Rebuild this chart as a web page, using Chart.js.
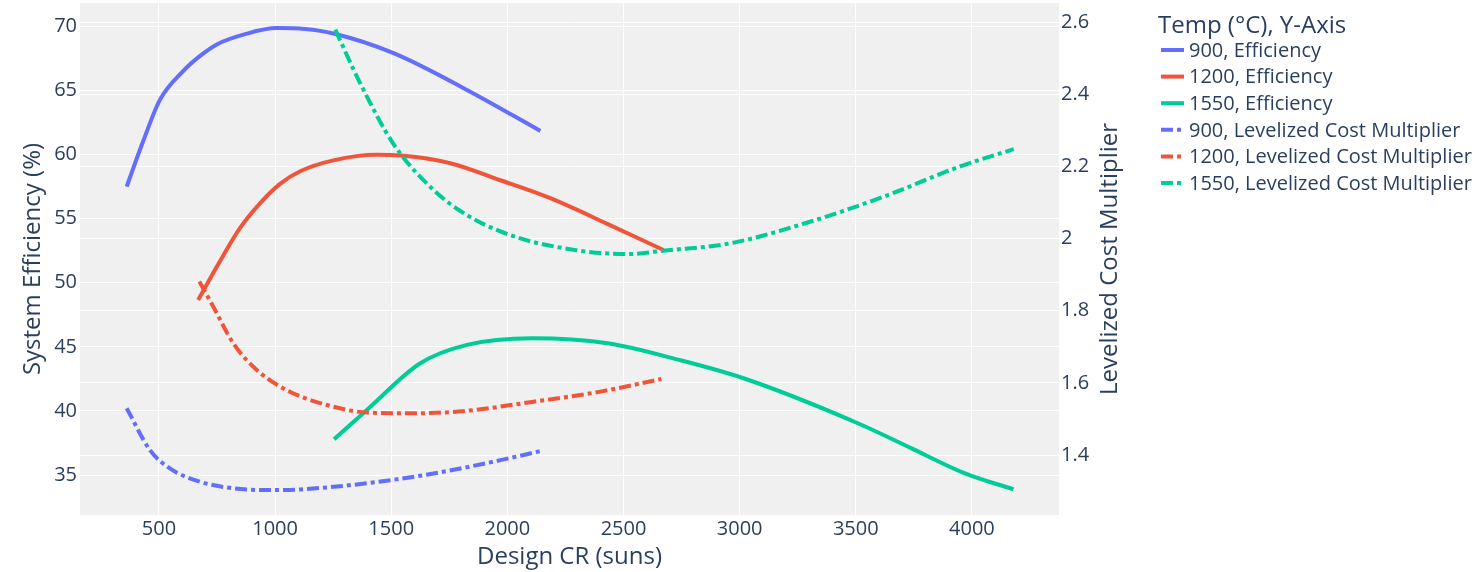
<!DOCTYPE html>
<html>
<head>
<meta charset="utf-8">
<script src="https://cdn.jsdelivr.net/npm/chart.js@4.4.1/dist/chart.umd.min.js"></script>
<style>
html,body{margin:0;padding:0;background:#ffffff;}
#wrap{width:1483px;height:572px;position:relative;}
</style>
</head>
<body>
<div id="wrap"><canvas id="c" width="1483" height="572"></canvas></div>
<script>
// ---- data ----
const cr900 = [361, 431, 504, 603, 677, 749, 871, 1007, 1129, 1251, 1510, 1826, 2142];
const eff900 = [57.5, 61.0, 64.27, 66.5, 67.7, 68.6, 69.4, 69.87, 69.8, 69.45, 67.92, 65.05, 61.85];

const cr1200 = [669, 760, 850, 935, 1020, 1108, 1251, 1438, 1539, 1754, 1970, 2185, 2430, 2672];
const eff1200 = [48.66, 51.6, 54.3, 56.2, 57.7, 58.7, 59.55, 59.98, 59.93, 59.33, 58.0, 56.6, 54.6, 52.56];

const cr1550 = [1254, 1395, 1625, 1826, 2108, 2431, 2740, 3017, 3509, 3740, 3970, 4179];
const eff1550 = [37.79, 40.07, 43.72, 45.15, 45.67, 45.28, 43.98, 42.55, 39.04, 37.08, 35.13, 33.88];

const cr900L = [361, 461, 547, 677, 820, 964, 1108, 1395, 1682, 1970, 2142];
const lcm900 = [1.530, 1.414, 1.363, 1.326, 1.308, 1.303, 1.305, 1.322, 1.349, 1.386, 1.411];

const cr1200L = [674, 734, 820, 921, 1050, 1223, 1395, 1611, 1826, 2113, 2401, 2663];
const lcm1200 = [1.881, 1.811, 1.710, 1.636, 1.580, 1.539, 1.518, 1.516, 1.523, 1.548, 1.576, 1.611];

const cr1550L = [1259, 1366, 1510, 1682, 1826, 1970, 2135, 2514, 2679, 2960, 3289, 3619, 3949, 4180];
const lcm1550 = [2.579, 2.431, 2.262, 2.135, 2.065, 2.020, 1.987, 1.957, 1.967, 1.987, 2.044, 2.116, 2.200, 2.248];

const xTicks = [500, 1000, 1500, 2000, 2500, 3000, 3500, 4000];
const yLeftTicks = [35, 40, 45, 50, 55, 60, 65, 70];
const yRightTicks = [1.4, 1.6, 1.8, 2.0, 2.2, 2.4, 2.6];

const seriesLabels = ['900, Efficiency', '1200, Efficiency', '1550, Efficiency',
  '900, Levelized Cost Multiplier', '1200, Levelized Cost Multiplier', '1550, Levelized Cost Multiplier'];
const legendTitle = 'Temp (\u00B0C), Y-Axis';
const xTitle = 'Design CR (suns)';
const yLeftTitle = 'System Efficiency (%)';
const yRightTitle = 'Levelized Cost Multiplier';

// ---- styles ----
const BLUE = '#636efa', RED = '#EF553B', GREEN = '#00cc96';
const TEXT = '#2a3f5f';
const FONT = '"Open Sans", "Noto Sans", sans-serif';
const DASHDOT = [12, 4, 4, 4];

function pts(xs, ys) { return xs.map((x, i) => ({x: x, y: ys[i]})); }

const defs = [
  {xs: cr900, ys: eff900, c: BLUE, axis: 'y', dash: []},
  {xs: cr1200, ys: eff1200, c: RED, axis: 'y', dash: []},
  {xs: cr1550, ys: eff1550, c: GREEN, axis: 'y', dash: []},
  {xs: cr900L, ys: lcm900, c: BLUE, axis: 'y1', dash: DASHDOT},
  {xs: cr1200L, ys: lcm1200, c: RED, axis: 'y1', dash: DASHDOT},
  {xs: cr1550L, ys: lcm1550, c: GREEN, axis: 'y1', dash: DASHDOT},
];

const datasets = defs.map((d, i) => ({
  label: seriesLabels[i],
  data: pts(d.xs, d.ys),
  yAxisID: d.axis,
  borderColor: d.c,
  backgroundColor: d.c,
  borderWidth: 4,
  borderDash: d.dash,
  borderCapStyle: 'butt',
  borderJoinStyle: 'round',
  pointRadius: 0,
  pointHoverRadius: 0,
  fill: false,
  cubicInterpolationMode: 'monotone',
  order: defs.length - i
}));

const decor = {
  id: 'decor',
  beforeDraw(chart) {
    const {ctx, chartArea: a} = chart;
    ctx.save();
    ctx.fillStyle = '#f0f0f0';
    ctx.fillRect(a.left, a.top, a.right - a.left, a.bottom - a.top);
    ctx.restore();
  },
  afterDraw(chart) {
    const ctx = chart.ctx;
    const a = chart.chartArea;
    ctx.save();
    // right axis title (reads bottom to top)
    ctx.fillStyle = TEXT;
    ctx.font = '24px ' + FONT;
    ctx.textAlign = 'center';
    ctx.textBaseline = 'middle';
    ctx.translate(1110, (a.top + a.bottom) / 2);
    ctx.rotate(-Math.PI / 2);
    ctx.fillText(yRightTitle, 0, 0);
    ctx.restore();

    // legend
    ctx.save();
    ctx.fillStyle = TEXT;
    ctx.textAlign = 'left';
    ctx.textBaseline = 'middle';
    ctx.font = '24px ' + FONT;
    ctx.fillText(legendTitle, 1158, 26);
    ctx.font = '20px ' + FONT;
    chart.data.datasets.forEach((ds, i) => {
      const y = 50 + i * 26.6;
      ctx.save();
      ctx.strokeStyle = ds.borderColor;
      ctx.lineWidth = 4;
      ctx.setLineDash(ds.borderDash || []);
      ctx.beginPath();
      ctx.moveTo(1161, y);
      ctx.lineTo(1184, y);
      ctx.stroke();
      ctx.restore();
      ctx.fillText(ds.label, 1189, y + 1);
    });
    ctx.restore();
  }
};

const tickFont = {family: FONT, size: 20};
const gridOpts = {color: '#ffffff', lineWidth: 1, drawTicks: false};
function noPadV(s, w) { s.width = w; s.paddingTop = 0; s.paddingBottom = 0; }

new Chart(document.getElementById('c'), {
  type: 'line',
  data: {datasets: datasets},
  options: {
    responsive: false,
    animation: false,
    devicePixelRatio: 1,
    layout: {padding: {left: 0, top: 3, right: 344, bottom: 0}},
    plugins: {legend: {display: false}, tooltip: {enabled: false}},
    scales: {
      x: {
        type: 'linear', position: 'bottom', min: 160, max: 4375,
        afterBuildTicks: s => { s.ticks = xTicks.map(v => ({value: v})); },
        afterFit: s => { s.height = 57; s.paddingLeft = 0; s.paddingRight = 0; },
        grid: gridOpts, border: {display: false},
        ticks: {font: tickFont, color: TEXT, padding: 2, maxRotation: 0, callback: v => String(v)},
        title: {display: true, text: xTitle, color: TEXT, font: {family: FONT, size: 24}, padding: {top: 0, bottom: 0}}
      },
      y: {
        type: 'linear', position: 'left', min: 31.88, max: 71.83,
        afterBuildTicks: s => { s.ticks = yLeftTicks.map(v => ({value: v})); },
        afterFit: s => noPadV(s, 80),
        grid: gridOpts, border: {display: false},
        ticks: {font: tickFont, color: TEXT, padding: 3, callback: v => String(v)},
        title: {display: true, text: yLeftTitle, color: TEXT, font: {family: FONT, size: 24}, padding: {top: 19, bottom: 0}}
      },
      y1: {
        type: 'linear', position: 'right', min: 1.234, max: 2.653,
        afterBuildTicks: s => { s.ticks = yRightTicks.map(v => ({value: v})); },
        afterFit: s => noPadV(s, 80),
        grid: gridOpts, border: {display: false},
        ticks: {font: tickFont, color: TEXT, padding: 2, callback: v => String(+v.toFixed(1))}
      }
    }
  },
  plugins: [decor]
});
</script>
</body>
</html>
